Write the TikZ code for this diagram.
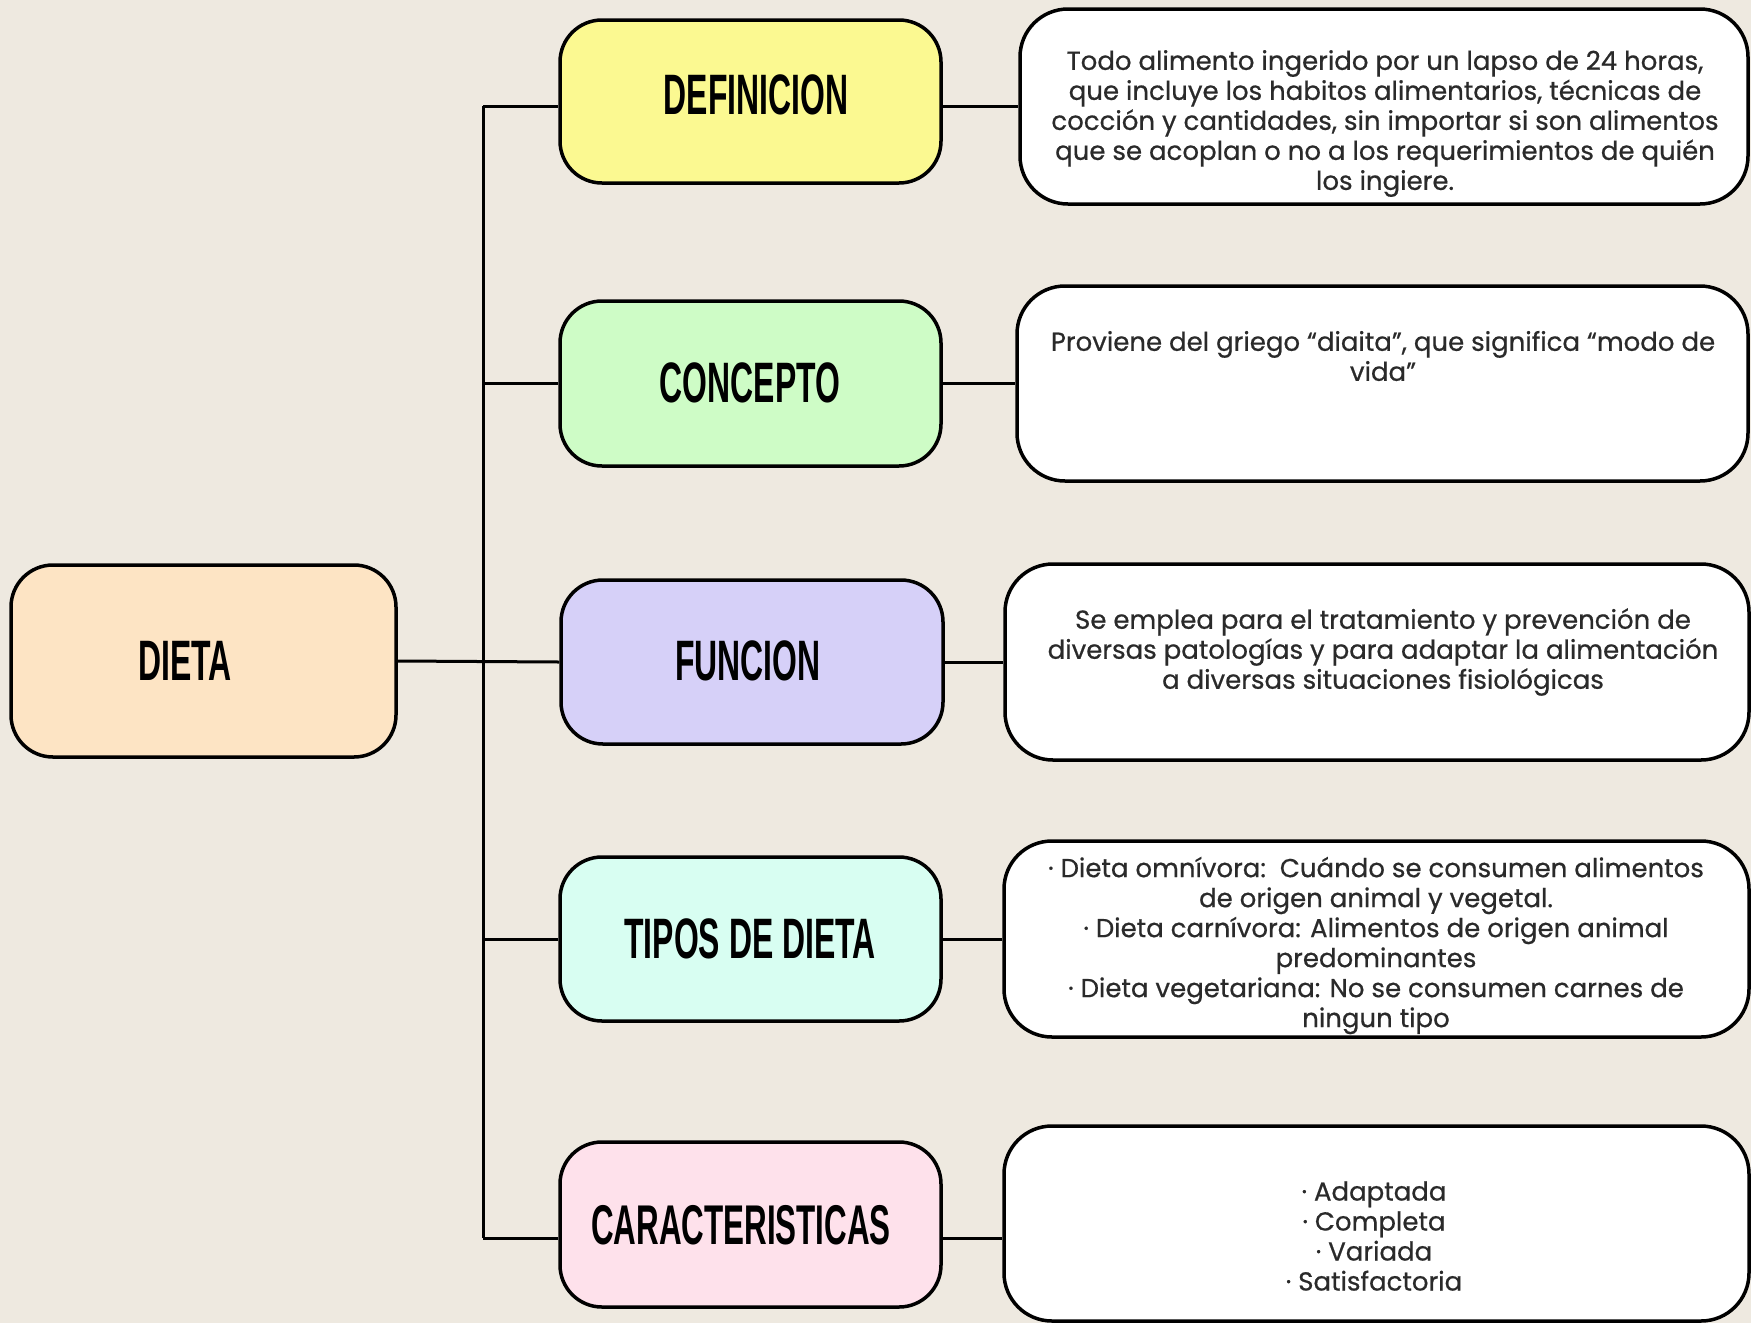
\documentclass[tikz,border=0pt]{standalone}
\usepackage{fontspec}
\setmainfont{Poppins}
\newfontfamily\titlefont{Liberation Sans}[FakeStretch=0.56]
\newfontfamily\bodyfont{Poppins}[FakeBold=0.6]
\definecolor{bg}{HTML}{EEE9E0}
\definecolor{cDieta}{HTML}{FDE4C4}
\definecolor{cDef}{HTML}{FBF991}
\definecolor{cConc}{HTML}{CEFCC6}
\definecolor{cFunc}{HTML}{D6D0F8}
\definecolor{cTipos}{HTML}{D8FEF2}
\definecolor{cCar}{HTML}{FEE1EB}
\definecolor{txt}{HTML}{2A2A2A}
\tikzset{
  box/.style={draw=black, line width=3.5pt, rounded corners=42pt, inner sep=0pt},
  wbox/.style={draw=black, line width=3.5pt, rounded corners=48pt, fill=white, inner sep=0pt},
  ttl/.style={inner sep=0pt, anchor=base, font=\titlefont\bfseries\fontsize{57}{60}\selectfont},
  btxt/.style={inner sep=0pt, align=center, text=txt, font=\bodyfont\fontsize{26}{30}\selectfont},
  conn/.style={line width=3pt, draw=black}
}
\begin{document}
\begin{tikzpicture}[x=1pt,y=-1pt]
\fill[bg] (0,0) rectangle (1751,1323);
\useasboundingbox (0,0) rectangle (1751,1323);
% colored boxes
\node[box, fill=cDieta, minimum width=385pt, minimum height=192pt] (dieta) at (203.5,661) {};
\node[box, fill=cDef,   minimum width=381pt, minimum height=163pt] (def)   at (750.5,101.5) {};
\node[box, fill=cConc,  minimum width=381pt, minimum height=165pt] (conc)  at (750.5,383.5) {};
\node[box, fill=cFunc,  minimum width=382pt, minimum height=164pt] (func)  at (752,662) {};
\node[box, fill=cTipos, minimum width=381pt, minimum height=164pt] (tipos) at (750.5,939) {};
\node[box, fill=cCar,   minimum width=381pt, minimum height=165pt] (car)   at (750.5,1224.5) {};
% white boxes
\node[wbox, minimum width=728pt, minimum height=195pt] (w1) at (1384,106.5) {};
\node[wbox, minimum width=731pt, minimum height=195pt] (w2) at (1382.5,383.5) {};
\node[wbox, minimum width=744pt, minimum height=196pt] (w3) at (1377,662) {};
\node[wbox, minimum width=745pt, minimum height=196pt] (w4) at (1376.5,939) {};
\node[wbox, minimum width=745pt, minimum height=195pt] (w5) at (1376.5,1223.5) {};
% titles
\node[ttl] (tdieta) at (185,680.5) {DIETA};
\node[ttl] (tdef)   at (756,114.5) {DEFINICION};
\node[ttl] (tconc)  at (750,402.5) {CONCEPTO};
\node[ttl] (tfunc)  at (748,680.5) {FUNCION};
\node[ttl] (ttipos) at (750,958.5) {TIPOS DE DIETA};
\node[ttl, font=\titlefont\bfseries\fontsize{56}{60}\selectfont] (tcar) at (741,1244.5) {CARACTERISTICAS};
% body texts
\node[btxt] (x1) at (1385,123.5) {Todo alimento ingerido por un lapso de 24 horas,\\que incluye los habitos alimentarios, técnicas de\\cocción y cantidades, sin importar si son alimentos\\que se acoplan o no a los requerimientos de quién\\los ingiere.};
\node[btxt] (x2) at (1383,356) {Proviene del griego “diaita”, que significa “modo de\\vida”};
\node[btxt] (x3) at (1383,652) {Se emplea para el tratamiento y prevención de\\diversas patologías y para adaptar la alimentación\\a diversas situaciones fisiológicas};
\node[btxt] (x4) at (1376,945.5) {· Dieta omnívora:\ \ Cuándo se consumen alimentos\\de origen animal y vegetal.\\· Dieta carnívora: Alimentos de origen animal\\predominantes\\· Dieta vegetariana: No se consumen carnes de\\ningun tipo};
\node[btxt] (x5) at (1374,1236) {· Adaptada\\ · Completa\\ · Variada\\· Satisfactoria};
% connectors
\coordinate (t1) at (483,106);
\coordinate (t5) at (483,1238);
\draw[conn] (t1) -- (t5);
\draw[conn] (t1) -- (t1 -| def.west);
\draw[conn] (conc.west -| t1) -- (conc.west);
\draw[conn] (dieta.east) -- (func.west);
\draw[conn] (tipos.west -| t1) -- (tipos.west);
\draw[conn] (t5) -- (t5 -| car.west);
\draw[conn] (def.east |- t1) -- (w1.west |- t1);
\draw[conn] (conc.east) -- (w2.west |- conc.east);
\draw[conn] (func.east) -- (w3.west |- func.east);
\draw[conn] (tipos.east) -- (w4.west |- tipos.east);
\draw[conn] (car.east |- t5) -- (w5.west |- t5);
\end{tikzpicture}
\end{document}
